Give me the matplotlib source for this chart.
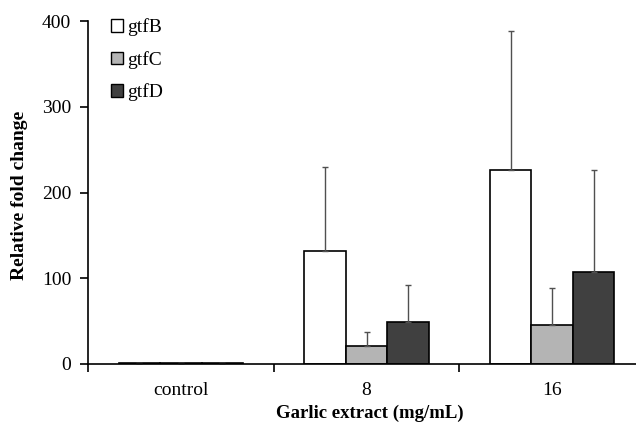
import numpy as np
from matplotlib import pyplot as plt
from matplotlib.patches import Patch

plt.rcParams['font.family'] = ['Liberation Serif', 'DejaVu Serif']

groups = ['control', '8', '16']
genes = ['gtfB', 'gtfC', 'gtfD']
means = {
    'gtfB': [1, 132, 226],
    'gtfC': [1, 21, 45],
    'gtfD': [1, 49, 107],
}
errs = {
    'gtfB': [0, 98, 162],
    'gtfC': [0, 16, 44],
    'gtfD': [0, 43, 119],
}
colors = {'gtfB': 'white', 'gtfC': '#b4b4b4', 'gtfD': '#404040'}

fig = plt.figure(figsize=(6.36, 4.24), dpi=100)
ax = fig.add_axes([88/636, 60/424, 557/636, 343/424])

x = np.arange(len(groups))
w = 0.223
for i, g in enumerate(genes):
    pos = x + (i - 1) * w
    ax.bar(pos, means[g], width=w, color=colors[g], edgecolor='black', linewidth=1.2)
    ax.errorbar(pos, means[g], yerr=[np.zeros(3), errs[g]], fmt='none',
                ecolor='#505050', elinewidth=1, capsize=2, capthick=1)

ax.set_xlim(-0.5, 2.5)
ax.set_ylim(0, 400)
ax.set_yticks([0, 100, 200, 300, 400])
ax.set_xticks(x)
ax.set_xticklabels(groups)
ax.set_xticks([-0.5, 0.5, 1.5, 2.5], minor=True)
ax.tick_params(axis='x', which='major', length=0, labelsize=14, pad=13)
ax.tick_params(axis='x', which='minor', length=6, direction='out', width=1.2)
ax.tick_params(axis='y', length=6, direction='out', width=1.2, labelsize=14, pad=6)
for s in ['top', 'right']:
    ax.spines[s].set_visible(False)
ax.spines['left'].set_linewidth(1.2)
ax.spines['bottom'].set_linewidth(1.2)

ax.set_ylabel('Relative fold change', fontsize=14, fontweight='bold')
ax.yaxis.set_label_coords(-(88 - 20) / 557, (364 - 195) / 343)
ax.set_xlabel('Garlic extract (mg/mL)', fontsize=13.5, fontweight='bold')
ax.xaxis.set_label_coords((370 - 88) / 557, -(413 - 364) / 343)
ax.xaxis.label.set_va('center')
ax.yaxis.label.set_va('center')

handles = [Patch(facecolor=colors[g], edgecolor='black', linewidth=1) for g in genes]
ax.legend(handles, genes, loc='upper left', bbox_to_anchor=(0.028, 1.03), frameon=False,
          fontsize=14, handlelength=0.6, handleheight=0.6, handletextpad=0.2,
          labelspacing=0.75, borderaxespad=0)

fig.savefig('out.png', dpi=100)
